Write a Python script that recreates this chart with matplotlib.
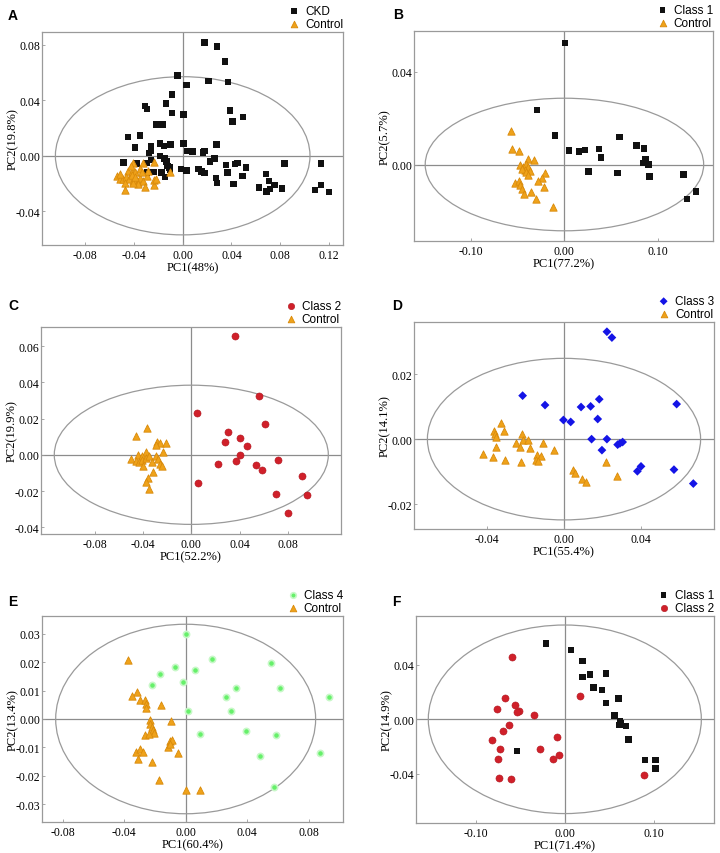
import matplotlib
matplotlib.use("Agg")
import matplotlib.pyplot as plt
from matplotlib.patches import Ellipse
import numpy as np

plt.rcParams['axes.unicode_minus'] = False

# ---------------- data ----------------
# Panel A
a_ckd_x = [0.0177, 0.0281, 0.0349, 0.0371, 0.0210, -0.0044, 0.0033, -0.0087, -0.0139, -0.0311,
           -0.0295, -0.0087, 0.0005, 0.0388, 0.0497, 0.0407, -0.0213, -0.0164, -0.0448, -0.0352,
           -0.0390, -0.0259, -0.0186, -0.0153, -0.0098, 0.0005, 0.0279, -0.0262, -0.0278, 0.0038,
           0.0079, 0.0167, 0.0177, -0.0188, -0.0150, -0.0486, -0.0377, -0.0295, -0.0259, -0.0131,
           -0.0126, -0.0109, -0.0104, -0.0240, -0.0295, -0.0172, -0.0147, -0.0014, 0.0033, 0.0131,
           0.0156, 0.0177, 0.0224, 0.0259, 0.0273, 0.0281, 0.0355, 0.0369, 0.0418, 0.0429,
           0.0451, 0.0519, 0.0492, 0.0683, 0.0710, 0.0754, 0.0628, 0.0688, 0.0715, 0.0814,
           0.0836, 0.1136, 0.1136, 0.1087, 0.1202]
a_ckd_y = [0.0817, 0.0786, 0.0680, 0.0530, 0.0540, 0.0578, 0.0511, 0.0443, 0.0376, 0.0357,
           0.0337, 0.0308, 0.0296, 0.0325, 0.0280, 0.0246, 0.0227, 0.0227, 0.0137, 0.0145,
           0.0058, 0.0070, 0.0089, 0.0072, 0.0080, 0.0089, 0.0080, 0.0036, 0.0019, 0.0036,
           0.0029, 0.0024, 0.0034, 0.0000, -0.0019, -0.0048, -0.0055, -0.0053, -0.0029, -0.0043,
           -0.0072, -0.0084, -0.0104, -0.0116, -0.0120, -0.0120, -0.0152, -0.0096, -0.0106, -0.0096,
           -0.0113, -0.0125, -0.0043, -0.0019, -0.0159, -0.0195, -0.0065, -0.0120, -0.0205, -0.0060,
           -0.0053, -0.0084, -0.0145, -0.0130, -0.0183, -0.0210, -0.0229, -0.0258, -0.0241, -0.0234,
           -0.0055, -0.0055, -0.0210, -0.0248, -0.0260]
a_ctrl_x = [-0.0404, -0.0328, -0.0235, -0.0445, -0.0418, -0.0390, -0.0541, -0.0513, -0.0486, -0.0464,
            -0.0437, -0.0410, -0.0382, -0.0363, -0.0350, -0.0322, -0.0295, -0.0371, -0.0404, -0.0472,
            -0.0472, -0.0308, -0.0235, -0.0235, -0.0218, -0.0104, -0.0426, -0.0350, -0.0281, -0.0513,
            -0.0336, -0.0418, -0.0390]
a_ctrl_y = [-0.0053, -0.0055, -0.0048, -0.0108, -0.0116, -0.0120, -0.0145, -0.0164, -0.0169, -0.0152,
            -0.0169, -0.0181, -0.0173, -0.0188, -0.0157, -0.0181, -0.0145, -0.0207, -0.0198, -0.0193,
            -0.0246, -0.0224, -0.0212, -0.0176, -0.0169, -0.0120, -0.0072, -0.0096, -0.0108, -0.0133,
            -0.0120, -0.0140, -0.0152]

# Panel B
b_c1_x = [0.0007, -0.0292, -0.0100, 0.0050, 0.0157, 0.0221, 0.0370, 0.0391, 0.0256, 0.0587,
          0.0569, 0.0772, 0.0851, 0.0868, 0.0843, 0.0897, 0.0911, 0.1274, 0.1409, 0.1310]
b_c1_y = [0.0525, 0.0235, 0.0125, 0.0060, 0.0056, 0.0063, 0.0067, 0.0030, -0.0030, 0.0118,
          -0.0036, 0.0082, 0.0069, 0.0023, 0.0006, 0.0000, -0.0052, -0.0043, -0.0116, -0.0149]
b_ctrl_x = [-0.0573, -0.0559, -0.0488, -0.0395, -0.0324, -0.0477, -0.0441, -0.0416, -0.0388, -0.0423,
            -0.0459, -0.0370, -0.0406, -0.0388, -0.0210, -0.0238, -0.0288, -0.0530, -0.0488, -0.0477,
            -0.0459, -0.0217, -0.0359, -0.0431, -0.0299, -0.0121]
b_ctrl_y = [0.0143, 0.0067, 0.0060, 0.0024, 0.0020, -0.0004, -0.0009, 0.0003, -0.0011, -0.0023,
            -0.0019, -0.0026, -0.0033, -0.0047, -0.0037, -0.0057, -0.0072, -0.0080, -0.0072, -0.0090,
            -0.0105, -0.0097, -0.0119, -0.0129, -0.0148, -0.0184]

# Panel C
c_c2_x = [0.0359, 0.0560, 0.0047, 0.0612, 0.0306, 0.0279, 0.0400, 0.0463, 0.0400, 0.0223,
          0.0367, 0.0538, 0.0588, 0.0714, 0.0055, 0.0916, 0.0698, 0.0954, 0.0800]
c_c2_y = [0.0655, 0.0325, 0.0229, 0.0169, 0.0123, 0.0072, 0.0095, 0.0050, 0.0000, -0.0053,
          -0.0033, -0.0057, -0.0084, -0.0031, -0.0154, -0.0119, -0.0218, -0.0220, -0.0323]
c_ctrl_x = [-0.0364, -0.0461, -0.0281, -0.0262, -0.0212, -0.0295, -0.0234, -0.0372, -0.0502, -0.0439,
            -0.0411, -0.0461, -0.0433, -0.0406, -0.0378, -0.0350, -0.0323, -0.0295, -0.0273, -0.0262,
            -0.0246, -0.0400, -0.0317, -0.0356, -0.0378, -0.0350]
c_ctrl_y = [0.0150, 0.0101, 0.0072, 0.0064, 0.0064, 0.0053, 0.0013, 0.0017, -0.0024, -0.0002,
            -0.0009, -0.0033, -0.0042, -0.0028, -0.0020, -0.0009, -0.0039, -0.0006, -0.0024, -0.0051,
            -0.0061, -0.0061, -0.0097, -0.0130, -0.0149, -0.0189]

# Panel D
d_c3_x = [0.0224, 0.0250, -0.0216, -0.0099, 0.0089, 0.0139, 0.0184, 0.0176, -0.0003, 0.0035,
          0.0144, 0.0224, 0.0198, 0.0280, 0.0292, 0.0306, 0.0588, 0.0383, 0.0402, 0.0574, 0.0675]
d_c3_y = [0.0331, 0.0313, 0.0134, 0.0105, 0.0099, 0.0101, 0.0123, 0.0062, 0.0059, 0.0053,
          0.0000, 0.0000, -0.0034, -0.0017, -0.0013, -0.0009, 0.0108, -0.0099, -0.0084, -0.0094, -0.0137]
d_ctrl_x = [-0.0327, -0.0313, -0.0365, -0.0362, -0.0353, -0.0219, -0.0214, -0.0188, -0.0249, -0.0231,
            -0.0179, -0.0110, -0.0353, -0.0052, -0.0423, -0.0370, -0.0306, -0.0223, -0.0139, -0.0122,
            -0.0144, -0.0136, 0.0047, 0.0056, 0.0094, 0.0117, 0.0221, 0.0278]
d_ctrl_y = [0.0049, 0.0025, 0.0025, 0.0016, 0.0006, 0.0016, -0.0002, -0.0002, -0.0012, -0.0023,
            -0.0027, -0.0012, -0.0025, -0.0033, -0.0045, -0.0055, -0.0064, -0.0071, -0.0050, -0.0053,
            -0.0064, -0.0068, -0.0096, -0.0105, -0.0122, -0.0132, -0.0071, -0.0115]

# Panel E
e_c4_x = [0.0000, 0.0173, 0.0557, -0.0072, -0.0169, 0.0063, -0.0020, -0.0219, 0.0325, 0.0611,
          0.0260, 0.0934, 0.0293, 0.0013, 0.0395, 0.0093, 0.0588, 0.0486, 0.0874, 0.0572]
e_c4_y = [0.0300, 0.0211, 0.0197, 0.0183, 0.0159, 0.0171, 0.0130, 0.0120, 0.0108, 0.0109,
          0.0077, 0.0077, 0.0029, 0.0027, -0.0042, -0.0052, -0.0055, -0.0129, -0.0118, -0.0240]
e_ctrl_x = [-0.0375, -0.0317, -0.0347, -0.0299, -0.0267, -0.0260, -0.0256, -0.0158, -0.0234, -0.0230,
            -0.0219, -0.0093, -0.0212, -0.0204, -0.0267, -0.0238, -0.0104, -0.0087, -0.0115, -0.0104,
            -0.0050, -0.0325, -0.0299, -0.0278, -0.0310, -0.0217, -0.0173, 0.0000, 0.0091]
e_ctrl_y = [0.0206, 0.0095, 0.0080, 0.0068, 0.0066, 0.0052, 0.0040, 0.0048, -0.0002, -0.0016,
            -0.0028, -0.0008, -0.0040, -0.0049, -0.0057, -0.0052, -0.0077, -0.0073, -0.0098, -0.0087,
            -0.0118, -0.0116, -0.0104, -0.0116, -0.0140, -0.0151, -0.0213, -0.0251, -0.0249]

# Panel F
f_c1_x = [-0.0209, 0.0067, 0.0201, 0.0201, 0.0284, 0.0459, 0.0321, 0.0418, 0.0459, 0.0604,
          0.0556, 0.0619, 0.0631, 0.0612, 0.0687, 0.0713, 0.0896, 0.1019, 0.1015, -0.0534]
f_c1_y = [0.0554, 0.0508, 0.0426, 0.0311, 0.0326, 0.0336, 0.0233, 0.0216, 0.0119, 0.0151,
          0.0029, -0.0017, -0.0029, -0.0041, -0.0049, -0.0148, -0.0297, -0.0297, -0.0360, -0.0231]
f_c2_x = [-0.0590, -0.0672, -0.0765, -0.0563, -0.0511, -0.0534, -0.0351, -0.0631, -0.0698, -0.0817,
          -0.0728, -0.0750, -0.0735, -0.0601, -0.0280, -0.0131, -0.0063, -0.0086, 0.0172, 0.0888]
f_c2_y = [0.0457, 0.0153, 0.0073, 0.0107, 0.0063, 0.0051, 0.0032, -0.0041, -0.0083, -0.0153,
          -0.0219, -0.0292, -0.0428, -0.0438, -0.0214, -0.0287, -0.0258, -0.0129, 0.0168, -0.0406]

# axis labels
a_xlabel, a_ylabel = "PC1(48%)", "PC2(19.8%)"
b_xlabel, b_ylabel = "PC1(77.2%)", "PC2(5.7%)"
c_xlabel, c_ylabel = "PC1(52.2%)", "PC2(19.9%)"
d_xlabel, d_ylabel = "PC1(55.4%)", "PC2(14.1%)"
e_xlabel, e_ylabel = "PC1(60.4%)", "PC2(13.4%)"
f_xlabel, f_ylabel = "PC1(71.4%)", "PC2(14.9%)"

# ---------------- styles ----------------
BLACK = dict(marker='s', s=22, color='#111111', edgecolors='none')
ORANGE = dict(marker='^', s=28, color='#EFA21A', edgecolors='#D98A0A', linewidths=0.6)
RED = dict(marker='o', s=26, color='#D0202A', edgecolors='#B01820', linewidths=0.4)
BLUE = dict(marker='D', s=20, color='#1414E6', edgecolors='none')
GREEN = dict(marker='o', s=20, color='#66F06A', edgecolors='#C8F8C8', linewidths=1.2)

SERIF = 'Liberation Serif'
SANS = 'Liberation Sans'
GRAY = '#9a9a9a'

W, H = 720, 854
fig = plt.figure(figsize=(W / 100, H / 100), dpi=100)


def add_axes(l, r, t, b):
    ax = fig.add_axes([l / W, 1 - b / H, (r - l) / W, (b - t) / H])
    ax._px_w = r - l
    return ax


def style(ax, xlim, ylim, xticks, yticks, ell, xlabel, ylabel, letter, letter_xy, series):
    for (xs, ys, kw, lab) in series:
        ax.scatter(xs, ys, label=lab, zorder=3, **kw)
    ax.axhline(0, color='#8c8c8c', lw=0.9, zorder=1)
    ax.axvline(0, color='#8c8c8c', lw=0.9, zorder=1)
    ax.add_patch(Ellipse((0, 0), 2 * ell[0], 2 * ell[1], fill=False,
                         edgecolor=GRAY, lw=0.9, zorder=2))
    ax.set_xlim(*xlim)
    ax.set_ylim(*ylim)
    ax.set_xticks(xticks)
    ax.set_yticks(yticks)
    ax.set_xticklabels([f"{v:.2f}" for v in xticks], fontfamily=SERIF, fontsize=8.5)
    ax.set_yticklabels([f"{v:.2f}" for v in yticks], fontfamily=SERIF, fontsize=8.5)
    ax.tick_params(axis='x', direction='in', length=2, width=0.6, color=GRAY, pad=3)
    ax.tick_params(axis='y', direction='in', length=2, width=0.6, color=GRAY, pad=1.5)
    for sp in ax.spines.values():
        sp.set_color(GRAY)
        sp.set_linewidth(0.9)
    ax.set_xlabel(xlabel, fontfamily=SERIF, fontsize=9, labelpad=0)
    ax.set_ylabel(ylabel, fontfamily=SERIF, fontsize=9)
    ax.yaxis.set_label_coords(-23.0 / ax._px_w, 0.5)
    ax.legend(loc='lower right', bbox_to_anchor=(1.0, 1.01), frameon=False,
              prop={'family': SANS, 'size': 8.5}, handletextpad=0.45,
              labelspacing=0.05, borderaxespad=0, borderpad=0, handlelength=1.0,
              markerscale=0.9)
    fig.text(letter_xy[0] / W, 1 - letter_xy[1] / H, letter, fontfamily=SANS,
             fontweight='bold', fontsize=10, ha='left', va='center')


# A
axA = add_axes(42, 343, 33, 246)
style(axA, (-0.1155, 0.1316), (-0.0643, 0.0892),
      [-0.08, -0.04, 0.00, 0.04, 0.08, 0.12], [-0.04, 0.00, 0.04, 0.08],
      (0.1045, 0.057), a_xlabel, a_ylabel, 'A', (8, 16),
      [(a_ckd_x, a_ckd_y, BLACK, 'CKD'), (a_ctrl_x, a_ctrl_y, ORANGE, 'Control')])

# B
axB = add_axes(414, 713, 32, 242)
style(axB, (-0.161, 0.159), (-0.033, 0.0576),
      [-0.10, 0.00, 0.10], [0.00, 0.04],
      (0.149, 0.0286), b_xlabel, b_ylabel, 'B', (393, 15),
      [(b_c1_x, b_c1_y, BLACK, 'Class 1'), (b_ctrl_x, b_ctrl_y, ORANGE, 'Control')])

# C
axC = add_axes(41, 341, 328, 535)
style(axC, (-0.1244, 0.1239), (-0.0437, 0.0705),
      [-0.08, -0.04, 0.00, 0.04, 0.08], [-0.04, -0.02, 0.00, 0.02, 0.04, 0.06],
      (0.1134, 0.0384), c_xlabel, c_ylabel, 'C', (8, 306),
      [(c_c2_x, c_c2_y, RED, 'Class 2'), (c_ctrl_x, c_ctrl_y, ORANGE, 'Control')])

# D
axD = add_axes(414, 714, 323, 530)
style(axD, (-0.0783, 0.0783), (-0.0277, 0.0361),
      [-0.04, 0.00, 0.04], [-0.02, 0.00, 0.02],
      (0.0713, 0.0249), d_xlabel, d_ylabel, 'D', (392, 306),
      [(d_c3_x, d_c3_y, BLUE, 'Class 3'), (d_ctrl_x, d_ctrl_y, ORANGE, 'Control')])

# E
axE = add_axes(42, 343, 617, 823)
style(axE, (-0.0934, 0.1023), (-0.0362, 0.0362),
      [-0.08, -0.04, 0.00, 0.04, 0.08], [-0.03, -0.02, -0.01, 0.00, 0.01, 0.02, 0.03],
      (0.0845, 0.0333), e_xlabel, e_ylabel, 'E', (8, 602),
      [(e_c4_x, e_c4_y, GREEN, 'Class 4'), (e_ctrl_x, e_ctrl_y, ORANGE, 'Control')])

# F
axF = add_axes(416, 714, 617, 824)
style(axF, (-0.1668, 0.1672), (-0.0759, 0.0756),
      [-0.10, 0.00, 0.10], [-0.04, 0.00, 0.04],
      (0.153, 0.069), f_xlabel, f_ylabel, 'F', (392, 602),
      [(f_c1_x, f_c1_y, BLACK, 'Class 1'), (f_c2_x, f_c2_y, RED, 'Class 2')])

fig.savefig('out.png', dpi=100)
